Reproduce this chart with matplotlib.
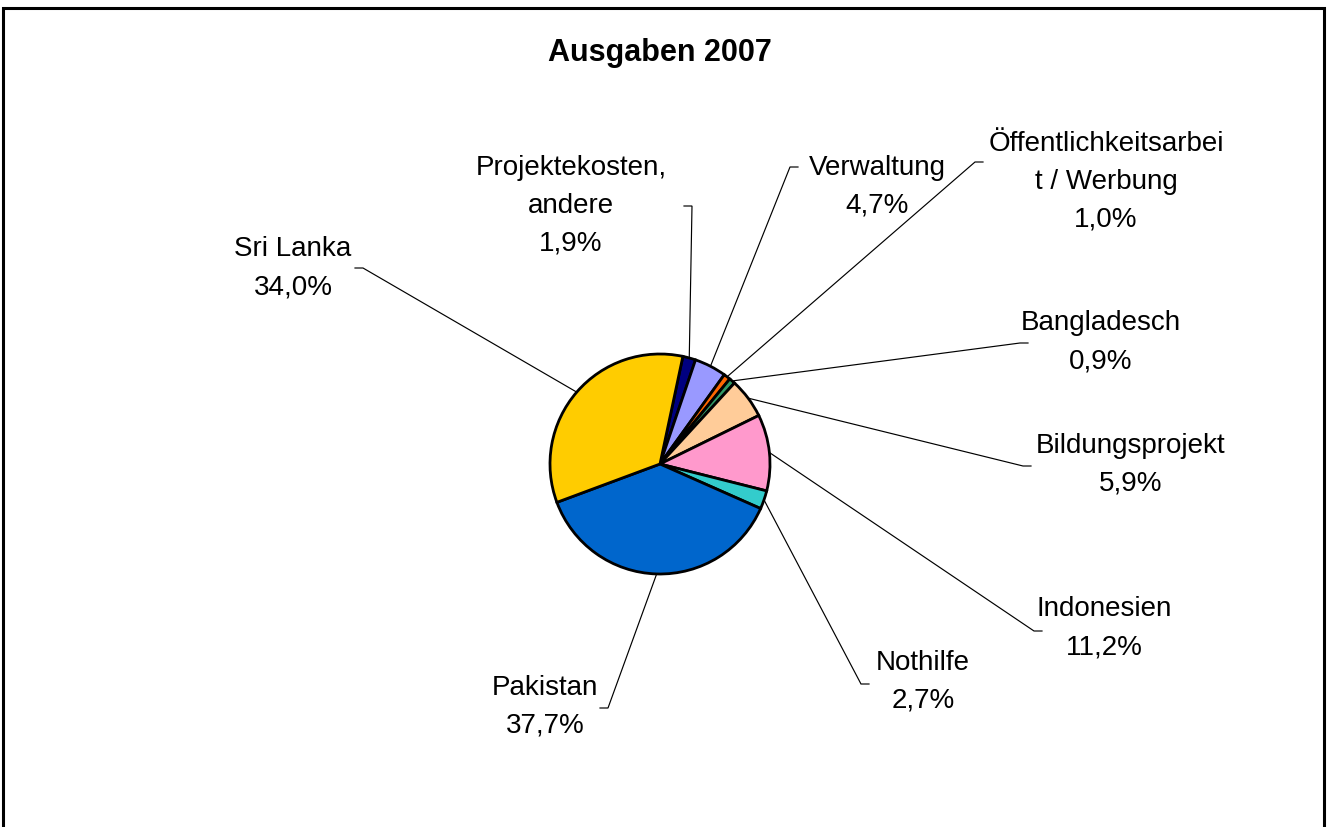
import numpy as np
import matplotlib
matplotlib.use("Agg")
import matplotlib.pyplot as plt
from matplotlib.patches import Rectangle

# ---- data ----
categories = ["Projektekosten,\nandere", "Verwaltung", "Öffentlichkeitsarbei\nt / Werbung",
              "Bangladesch", "Bildungsprojekt", "Indonesien", "Nothilfe", "Pakistan", "Sri Lanka"]
values = [1.9, 4.7, 1.0, 0.9, 5.9, 11.2, 2.7, 37.7, 34.0]
pct_labels = ["1,9%", "4,7%", "1,0%", "0,9%", "5,9%", "11,2%", "2,7%", "37,7%", "34,0%"]
colors = ["#000080", "#9999FF", "#FF6600", "#339966", "#FFCC99", "#FF99CC", "#33CCCC", "#0066CC", "#FFCC00"]
title = "Ausgaben 2007"

# ---- layout (pixel coordinates, y measured from top) ----
W, H = 1327, 828
cx, cy, R = 660, 465, 110
start_angle = 78
# label centre, elbow point of leader, horizontal direction of final stub
label_pos = [(571, 206), (877, 187), (1106, 182), (1101, 342), (1131, 465),
             (1104, 628), (923, 682), (545, 707), (293, 268)]
elbows = [(692, 207), (790, 168), (975, 163), (1020, 344), (1023, 467),
          (1034, 632), (861, 685), (608, 709), (363, 269)]
stub_dir = [-1, 1, 1, 1, 1, 1, 1, -1, -1]

def Y(y):
    return H - y

plt.rcParams['font.family'] = ['Liberation Sans', 'DejaVu Sans']
fig = plt.figure(figsize=(W / 100, H / 100), dpi=100)
ax = fig.add_axes([0, 0, 1, 1])
ax.set_xlim(0, W)
ax.set_ylim(0, H)
ax.set_aspect('equal')
ax.axis('off')

wedges, _ = ax.pie(values, colors=colors, startangle=start_angle, counterclock=False,
                   center=(cx, Y(cy)), radius=R, frame=True,
                   wedgeprops=dict(edgecolor='black', linewidth=2.0))
ax.set_xlim(0, W)
ax.set_ylim(0, H)
ax.axis('off')

for i, w in enumerate(wedges):
    mid = np.deg2rad((w.theta1 + w.theta2) / 2)
    px = cx + R * np.cos(mid)
    py = Y(cy) + R * np.sin(mid)
    ex, ey = elbows[i]
    ax.plot([px, ex, ex + 8 * stub_dir[i]], [py, Y(ey), Y(ey)], color='black', lw=0.85,
            solid_joinstyle='miter')
    lx, ly = label_pos[i]
    ax.text(lx, Y(ly), categories[i] + "\n" + pct_labels[i], ha='center', va='center',
            fontsize=20, linespacing=1.6, color='black')

ax.text(660, Y(53), title, ha='center', va='center', fontsize=22, fontweight='bold')

ax.add_patch(Rectangle((3, -10), W - 6, H - 9 + 10, fill=False, edgecolor='black',
                       linewidth=2.2, clip_on=False))

fig.savefig("out.png", dpi=100, facecolor='white')
